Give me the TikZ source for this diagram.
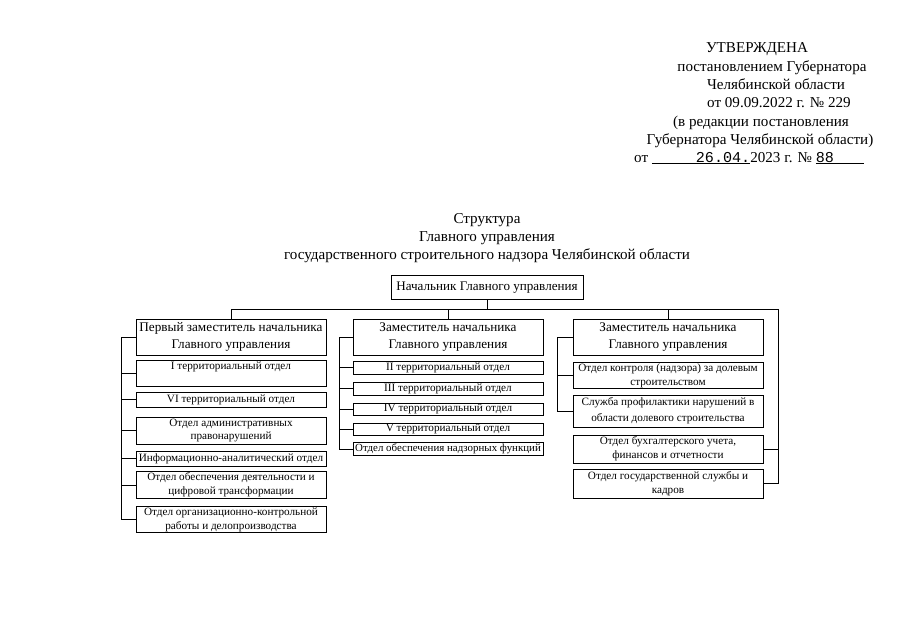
\documentclass[tikz,border=0pt]{standalone}
\usepackage{fontspec}
\setmainfont{Liberation Serif}
\setmonofont{Liberation Mono}
\usepackage{tikz}
\usetikzlibrary{positioning, calc}
\newcommand{\Razmer}[2]{\fontsize{#1}{#2}\selectfont}
\tikzset{
  %% ── Boxes ────────────────────────────────────────────────────────────
  %% The head and the deputies carry the larger type; the departments are
  %% set smaller so that their long names stay on one or two lines.
  glava/.style  = {draw, line width=0.9pt, align=center, inner sep=1pt,
                   font=\Razmer{13.1}{15}},
  zam/.style    = {glava, minimum width=190pt, minimum height=36pt,
                   font=\Razmer{13.2}{16.5}},
  otdel/.style  = {draw, line width=0.9pt, align=center, inner sep=1pt,
                   minimum width=190pt, font=\Razmer{11.2}{13.8}},
  %%
  %% ── Lines ────────────────────────────────────────────────────────────
  svyaz/.style  = {draw, line width=0.7pt},
  %%
  %% ── Text ─────────────────────────────────────────────────────────────
  shapka/.style = {font=\Razmer{15.1}{17}, inner sep=0pt, anchor=base},
}

\begin{document}
\begin{tikzpicture}[x=1pt, y=-1pt]

\useasboundingbox (0,0) rectangle (905,640);

%% approval stamp
\node[shapka] (utv)  at (757, 52)  {УТВЕРЖДЕНА};
\node[shapka] (post) at (772, 71)  {постановлением Губернатора};
\node[shapka] (obl)  at (776, 89)  {Челябинской области};
\node[shapka] (data) at (779, 107) {от 09.09.2022 г. № 229};
\node[shapka] (red)  at (761, 126) {(в редакции постановления};
\node[shapka] (gub)  at (760, 144) {Губернатора Челябинской области)};
\node[shapka, anchor=base west] (nov) at (634, 162)
     {от \underline{\hspace{44pt}\texttt{26.04.}}2023 г. №
      \underline{\texttt{88}\hspace{30pt}}};

%% title
\node[shapka] (t1) at (487, 223) {Структура};
\node[shapka] (t2) at (487, 241) {Главного управления};
\node[shapka] (t3) at (487, 259)
     {государственного строительного надзора Челябинской области};

%% head
\node[glava, minimum width=192pt, minimum height=24pt] (nach) at (487, 287.5)
     {Начальник Главного управления};

%% deputies
\node[zam] (zam1) at (231, 337) {Первый заместитель начальника\\Главного управления};
\node[zam] (zam2) at (448, 337) {Заместитель начальника\\Главного управления};
\node[zam] (zam3) at (668, 337) {Заместитель начальника\\Главного управления};

%% first deputy
\node[otdel, minimum height=26pt] (ter1)  at (231, 373)
     {I территориальный отдел\\~};
\node[otdel, minimum height=15pt] (ter6)  at (231, 399.5) {VI территориальный отдел};
\node[otdel, minimum height=27pt] (adm)   at (231, 430.5)
     {Отдел административных\\правонарушений};
\node[otdel, minimum height=15pt] (info)  at (231, 458.5)
     {Информационно-аналитический отдел};
\node[otdel, minimum height=24pt] (obesp) at (231, 485)
     {Отдел обеспечения деятельности и\\цифровой трансформации};
\node[otdel, minimum height=25pt] (org)   at (231, 519.5)
     {Отдел организационно-контрольной\\работы и делопроизводства};

%% second deputy
\node[otdel, minimum height=13pt] (ter2) at (448, 367.5) {II территориальный отдел};
\node[otdel, minimum height=13pt] (ter3) at (448, 388.5) {III территориальный отдел};
\node[otdel, minimum height=12pt] (ter4) at (448, 409)   {IV территориальный отдел};
\node[otdel, minimum height=12pt] (ter5) at (448, 429)   {V территориальный отдел};
\node[otdel, minimum height=12pt, font=\Razmer{10.9}{13}] (nadz) at (448, 449)
     {Отдел обеспечения надзорных функций};

%% third deputy
\node[otdel, minimum height=25pt] (kontr) at (668, 375.5)
     {Отдел контроля (надзора) за долевым\\строительством};
\node[otdel, minimum height=32pt] (sluzh) at (668, 411)
     {Служба профилактики нарушений в\\[2pt]области долевого строительства};
\node[otdel, minimum height=28pt] (buh)   at (668, 449)
     {Отдел бухгалтерского учета,\\финансов и отчетности};
\node[otdel, minimum height=29pt] (kadr)  at (668, 483.5)
     {Отдел государственной службы и\\кадров};

%% links
\coordinate (razv)  at (487, 309);
\coordinate (pravo) at (778, 309);

\draw[svyaz] (nach.south) -- (razv);
\draw[svyaz] (zam1.north) |- (pravo) |- (kadr.east);
\draw[svyaz] (zam2.north) -- (zam2.north |- razv);
\draw[svyaz] (zam3.north) -- (zam3.north |- razv);
\draw[svyaz] (buh.east) -- (buh.east -| pravo);

\draw[svyaz] (zam1.west) -- ++(-14,0) |- (org.west);
\foreach \n in {ter1, ter6, adm, info, obesp}
  \draw[svyaz] (\n.west) -- ++(-14,0);

\draw[svyaz] (zam2.west) -- ++(-13,0) |- (nadz.west);
\foreach \n in {ter2, ter3, ter4, ter5}
  \draw[svyaz] (\n.west) -- ++(-13,0);

\draw[svyaz] (zam3.west) -- ++(-15,0) |- (sluzh.west);
\draw[svyaz] (kontr.west) -- ++(-15,0);

\end{tikzpicture}
\end{document}
